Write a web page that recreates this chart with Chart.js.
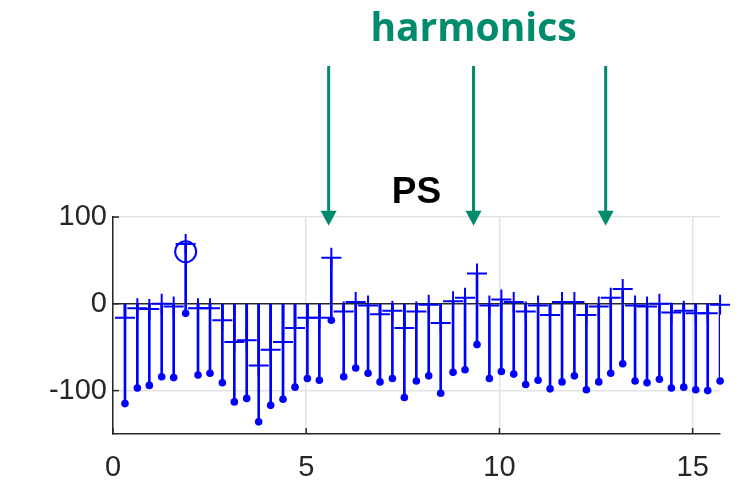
<!DOCTYPE html>
<html>
<head>
<meta charset="utf-8">
<script src="https://cdn.jsdelivr.net/npm/chart.js@4"></script>
<style>
  html,body{margin:0;padding:0;background:#fff;}
  #wrap{width:741px;height:488px;}
</style>
</head>
<body>
<div id="wrap"><canvas id="psChart" width="741" height="488"></canvas></div>
<script>
// frequency bins (x)
const freqs = [0.31,0.63,0.94,1.26,1.57,1.88,2.20,2.51,2.83,3.14,3.46,3.77,4.08,4.40,4.71,5.03,5.34,5.65,5.97,6.28,
  6.60,6.91,7.23,7.54,7.85,8.17,8.48,8.80,9.11,9.42,9.74,10.05,10.37,10.68,11.00,11.31,11.62,11.94,12.25,12.57,
  12.88,13.19,13.51,13.82,14.14,14.45,14.77,15.08,15.39,15.71];
// stems with filled dots
const dotVals = [-115,-97,-94,-84,-85,-11,-82,-80,-91,-113,-109,-136,-117,-110,-96,-86,-88,-19,-84,-74,
  -80,-90,-86,-108,-89,-83,-103,-79,-76,-47,-86,-78,-81,-93,-88,-98,-90,-83,-99,-90,
  -80,-69,-89,-91,-87,-97,-96,-99,-100,-89];
// stems with plus markers
const plusVals = [-16,-5,-6,0,-3,69,-5,-5,-19,-44,-42,-71,-53,-44,-28,-16,-16,53,-9,2,
  -2,-12,-8,-28,-9,-1,-22,3,7,35,-2,5,2,-9,-2,-13,2,2,-13,-3,
  7,17,-2,-3,0,-10,-8,-11,-11,-1];
// highlighted point
const circleX = [1.88];
const circleY = [60];
// harmonic arrows (x position), arrow from top value to tip value
const harmonicX = [5.58, 9.33, 12.75];
const arrowTop = 274;
const arrowTip = 90;

const xTicks = [0, 5, 10, 15];
const yTicks = [-100, 0, 100];

const BLUE = '#0000ff';
const GREEN = '#008c6c';

const pts = (xs, ys) => xs.map((x, i) => ({x, y: ys[i]}));

// inward tick marks, arrows and annotation text
const decor = {
  id: 'decor',
  afterDraw(chart){
    const {ctx, chartArea, scales:{x, y}} = chart;
    ctx.save();
    ctx.strokeStyle = '#262626';
    ctx.lineWidth = 1.5;
    for(const t of xTicks){
      const px = x.getPixelForValue(t);
      ctx.beginPath(); ctx.moveTo(px, chartArea.bottom); ctx.lineTo(px, chartArea.bottom - 6); ctx.stroke();
    }
    for(const t of yTicks){
      const py = y.getPixelForValue(t);
      ctx.beginPath(); ctx.moveTo(chartArea.left, py); ctx.lineTo(chartArea.left + 6, py); ctx.stroke();
    }
    // arrows
    ctx.strokeStyle = GREEN;
    ctx.fillStyle = GREEN;
    ctx.lineWidth = 3;
    for(const h of harmonicX){
      const px = x.getPixelForValue(h);
      const top = y.getPixelForValue(arrowTop);
      const tip = y.getPixelForValue(arrowTip);
      ctx.beginPath(); ctx.moveTo(px, top); ctx.lineTo(px, tip - 12); ctx.stroke();
      ctx.beginPath();
      ctx.moveTo(px - 8, tip - 15); ctx.lineTo(px + 8, tip - 15); ctx.lineTo(px, tip);
      ctx.closePath(); ctx.fill();
    }
    ctx.textAlign = 'center';
    ctx.textBaseline = 'alphabetic';
    ctx.font = 'bold 39px "Open Sans"';
    ctx.fillText('harmonics', x.getPixelForValue(harmonicX[1]), 41);
    ctx.fillStyle = '#000';
    ctx.font = 'bold 37px "Liberation Sans"';
    ctx.fillText('PS', (chartArea.left + chartArea.right) / 2, 203);
    ctx.restore();
  }
};

const chart = new Chart(document.getElementById('psChart').getContext('2d'), {
  type: 'bar',
  data: {
    datasets: [
      {type:'scatter', label:'circle', data: pts(circleX, circleY), pointStyle:'circle', pointRadius:10.5,
        borderColor:BLUE, backgroundColor:'rgba(0,0,0,0)', borderWidth:2, clip:false},
      {type:'scatter', label:'plus', data: pts(freqs, plusVals), pointStyle:'cross', pointRadius:10,
        borderColor:BLUE, borderWidth:2, clip:false},
      {type:'scatter', label:'dots', data: pts(freqs, dotVals), pointStyle:'circle', pointRadius:3.8,
        borderColor:BLUE, backgroundColor:BLUE, borderWidth:0, clip:false},
      {type:'bar', label:'plus stems', data: pts(freqs, plusVals), backgroundColor:BLUE, barThickness:2, grouped:false},
      {type:'bar', label:'dot stems', data: pts(freqs, dotVals), backgroundColor:BLUE, barThickness:2, grouped:false}
    ]
  },
  plugins: [decor],
  options: {
    responsive: false,
    animation: false,
    layout: {padding: {top: 217, right: 21, left: 0, bottom: 0}},
    plugins: {legend: {display: false}, tooltip: {enabled: false}},
    scales: {
      x: {
        type: 'linear', min: 0, max: 15.708, offset: false,
        afterBuildTicks: s => { s.ticks = xTicks.map(v => ({value: v})); },
        afterFit: s => { s.height = 54; },
        grid: {color: '#e3e3e3', lineWidth: 1.5, drawTicks: false, offset: false},
        border: {color: '#262626', width: 1.5},
        ticks: {color: '#262626', font: {family: 'Liberation Sans', size: 29}, padding: 17, maxRotation: 0}
      },
      y: {
        min: -150, max: 100,
        afterBuildTicks: s => { s.ticks = yTicks.map(v => ({value: v})); },
        afterFit: s => { s.width = 113; },
        grid: {color: c => c.tick && c.tick.value === 0 ? '#262626' : '#e3e3e3', lineWidth: 1.5, drawTicks: false},
        border: {color: '#262626', width: 1.5},
        ticks: {color: '#262626', font: {family: 'Liberation Sans', size: 29}, padding: 6}
      }
    }
  }
});
</script>
</body>
</html>
